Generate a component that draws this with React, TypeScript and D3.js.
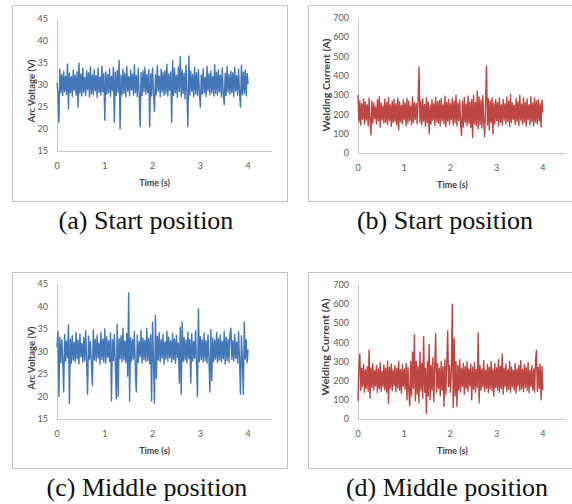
import React from "react";
import * as d3 from "d3";

// sample spacing of the recorded signals (s)
const SAMPLE_STEP = 0.02;

const xTicks = [0, 1, 2, 3, 4];
const voltageTicks = [15, 20, 25, 30, 35, 40, 45];
const currentTicks = [0, 100, 200, 300, 400, 500, 600, 700];

const captions = ["(a) Start position", "(b) Start position", "(c) Middle position", "(d) Middle position"];

// arc voltage, start position (V)
const voltageStart = [
  30.5, 27.8, 21.5, 33.6, 28.2, 32.4, 27.6, 33.1, 28.5, 32.0,
  27.9, 34.8, 24.6, 32.7, 28.3, 31.9, 27.4, 33.4, 28.8, 32.2,
  27.7, 33.0, 25.0, 35.0, 28.1, 32.5, 27.5, 33.8, 28.4, 31.7,
  27.6, 33.2, 28.9, 32.8, 27.3, 34.1, 28.0, 32.3, 27.8, 33.5,
  28.6, 32.1, 27.2, 33.9, 28.3, 31.8, 27.7, 34.3, 28.5, 32.6,
  22.0, 33.0, 27.9, 32.4, 28.2, 33.7, 27.4, 32.0, 28.7, 34.0,
  21.5, 32.9, 27.6, 33.3, 28.4, 35.6, 20.0, 32.2, 27.8, 33.6,
  28.1, 32.7, 27.3, 34.2, 28.6, 31.9, 27.5, 33.4, 28.9, 32.5,
  27.7, 34.6, 28.2, 32.1, 27.4, 33.8, 28.0, 20.5, 32.8, 27.6,
  33.2, 28.5, 34.0, 27.9, 32.4, 28.3, 33.5, 20.5, 32.6, 27.5,
  33.9, 28.1, 24.0, 32.3, 27.8, 34.4, 28.6, 32.0, 27.3, 33.6,
  28.4, 32.9, 27.7, 33.3, 28.0, 34.7, 27.5, 32.5, 28.8, 33.0,
  21.5, 35.5, 27.6, 33.8, 28.3, 32.2, 27.2, 34.1, 28.5, 36.5,
  27.4, 33.4, 28.1, 32.7, 26.8, 34.5, 28.2, 20.5, 36.6, 27.7,
  33.1, 28.6, 32.4, 27.3, 34.0, 28.0, 32.8, 27.6, 33.5, 28.4,
  25.0, 32.3, 27.9, 33.7, 28.2, 31.8, 27.4, 34.2, 28.7, 32.6,
  27.8, 33.2, 28.3, 32.0, 27.5, 34.6, 28.1, 32.9, 27.7, 33.4,
  28.5, 32.2, 27.3, 33.9, 28.0, 25.5, 32.7, 27.6, 34.3, 28.4,
  32.4, 27.9, 33.1, 28.2, 32.8, 27.4, 34.0, 28.6, 32.1, 27.7,
  33.6, 28.3, 25.0, 34.5, 27.8, 32.9, 28.1, 33.4, 27.5, 32.6,
  30.2,
];

// welding current, start position (A)
const currentStart = [
  300, 160, 270, 145, 255, 175, 280, 150, 265, 170,
  250, 140, 285, 165, 95, 270, 155, 260, 178, 240,
  150, 275, 168, 290, 135, 258, 172, 245, 155, 280,
  160, 262, 148, 287, 170, 250, 138, 268, 158, 278,
  165, 255, 145, 284, 120, 266, 162, 248, 150, 276,
  172, 259, 140, 283, 155, 270, 168, 244, 148, 290,
  160, 262, 175, 256, 152, 275, 445, 160, 268, 145,
  280, 166, 252, 138, 286, 157, 264, 100, 247, 150,
  277, 170, 258, 143, 288, 162, 266, 155, 272, 140,
  283, 168, 250, 152, 295, 136, 262, 165, 279, 148,
  256, 172, 284, 145, 268, 158, 300, 140, 260, 168,
  275, 150, 90, 270, 135, 288, 160, 254, 142, 296,
  155, 265, 132, 278, 80, 300, 150, 262, 140, 320,
  125, 290, 148, 275, 130, 298, 162, 85, 265, 450,
  145, 282, 120, 270, 158, 287, 100, 258, 150, 276,
  168, 262, 140, 285, 160, 250, 145, 278, 170, 255,
  152, 290, 165, 268, 138, 305, 158, 260, 175, 248,
  148, 282, 163, 266, 142, 300, 170, 254, 150, 286,
  160, 262, 138, 280, 172, 250, 146, 292, 165, 258,
  140, 285, 160, 270, 150, 278, 168, 255, 135, 276,
  210,
];

// arc voltage, middle position (V)
const voltageMiddle = [
  31.0, 34.5, 20.0, 33.2, 27.5, 32.6, 28.2, 21.0, 33.8, 27.9,
  32.3, 28.6, 35.9, 18.5, 32.8, 27.4, 33.5, 28.1, 32.0, 27.7,
  34.2, 28.4, 32.5, 27.3, 33.9, 28.8, 31.8, 27.6, 33.1, 28.0,
  34.6, 27.8, 20.5, 33.4, 28.3, 32.2, 27.5, 22.5, 34.8, 28.1,
  32.7, 27.9, 33.6, 28.5, 31.9, 27.2, 34.3, 28.2, 32.8, 27.6,
  35.0, 27.4, 33.3, 28.7, 32.4, 27.8, 34.1, 19.0, 32.6, 28.0,
  33.8, 27.3, 19.5, 36.0, 20.0, 32.9, 28.4, 33.5, 27.7, 35.2,
  28.1, 32.3, 27.5, 34.0, 24.5, 43.0, 19.0, 33.1, 27.9, 32.7,
  28.3, 34.4, 25.5, 21.0, 33.6, 27.6, 32.2, 28.8, 34.7, 27.4,
  33.0, 28.2, 32.5, 27.8, 35.1, 28.0, 32.9, 27.3, 33.7, 19.0,
  36.5, 27.5, 18.5, 38.0, 24.0, 33.4, 28.1, 34.2, 27.7, 32.6,
  28.5, 33.8, 27.2, 32.1, 28.3, 34.5, 27.9, 33.2, 28.6, 32.4,
  27.6, 34.0, 28.2, 32.8, 27.4, 33.6, 28.7, 31.9, 23.0, 35.4,
  20.5, 36.5, 27.8, 33.1, 28.1, 32.5, 27.5, 34.3, 28.4, 32.7,
  23.0, 33.9, 27.9, 32.2, 28.5, 34.6, 27.3, 20.0, 39.5, 27.7,
  33.3, 28.2, 32.6, 27.6, 34.1, 28.0, 32.4, 27.4, 33.7, 28.6,
  21.0, 34.9, 23.5, 33.0, 27.8, 32.5, 28.3, 34.2, 27.5, 32.9,
  28.1, 33.6, 27.7, 32.3, 28.4, 34.5, 27.2, 33.2, 28.0, 32.7,
  27.6, 34.0, 35.2, 28.2, 32.4, 27.9, 33.8, 28.5, 32.1, 27.4,
  34.4, 28.1, 20.5, 33.5, 27.7, 20.5, 36.5, 28.3, 32.6, 27.5,
  30.4,
];

// welding current, middle position (A)
const currentMiddle = [
  95, 280, 340, 150, 265, 170, 285, 140, 258, 160,
  272, 145, 360, 110, 268, 165, 290, 150, 255, 172,
  280, 138, 262, 158, 295, 145, 250, 168, 283, 152,
  266, 140, 300, 80, 270, 160, 288, 148, 256, 175,
  278, 142, 265, 162, 302, 150, 258, 135, 284, 170,
  262, 155, 290, 100, 270, 145, 70, 300, 120, 350,
  160, 440, 95, 300, 130, 275, 85, 350, 150, 290,
  110, 430, 140, 265, 30, 300, 120, 390, 100, 280,
  150, 320, 90, 270, 445, 140, 290, 160, 265, 120,
  300, 150, 275, 65, 310, 130, 290, 460, 170, 280,
  140, 260, 600, 60, 420, 120, 300, 65, 280, 150,
  310, 140, 265, 170, 290, 130, 275, 160, 300, 145,
  262, 172, 288, 100, 270, 155, 295, 140, 258, 165,
  450, 85, 280, 150, 262, 170, 305, 145, 255, 160,
  285, 138, 270, 158, 300, 148, 260, 120, 290, 165,
  268, 150, 310, 140, 275, 160, 340, 130, 265, 170,
  288, 145, 258, 155, 300, 140, 272, 168, 255, 150,
  290, 135, 262, 172, 280, 148, 305, 158, 260, 142,
  285, 165, 268, 150, 295, 138, 256, 170, 278, 152,
  262, 140, 300, 360, 145, 270, 160, 288, 100, 275,
  150,
];

const blue = "#4376b6";
const red = "#bd4643";
const tickFont = "Lato, 'Open Sans', sans-serif";

type Panel = {
  box: { x: number; y: number; w: number; h: number };
  plot: { left: number; right: number; top: number; bottom: number };
  yDomain: [number, number];
  yTicks: number[];
  yLabel: string;
  yLabelPos: { x: number; y: number; len?: number; size: number };
  values: number[];
  color: string;
  caption: string;
  captionY: number;
  captionX: number;
};

const panels: Panel[] = [
  {
    box: { x: 12, y: 5, w: 275, h: 196 },
    plot: { left: 57, right: 272, top: 19, bottom: 151 },
    yDomain: [15, 45], yTicks: voltageTicks,
    yLabel: "Arc Voltage (V)", yLabelPos: { x: 32, y: 91, size: 9.5 },
    values: voltageStart, color: blue,
    caption: captions[0], captionX: 146, captionY: 229,
  },
  {
    box: { x: 308, y: 5, w: 275, h: 196 },
    plot: { left: 358, right: 566, top: 18, bottom: 153 },
    yDomain: [0, 700], yTicks: currentTicks,
    yLabel: "Welding Current (A)", yLabelPos: { x: 327, y: 85, len: 93, size: 9.5 },
    values: currentStart, color: red,
    caption: captions[1], captionX: 445, captionY: 229,
  },
  {
    box: { x: 12, y: 272, w: 275, h: 196 },
    plot: { left: 57, right: 272, top: 284, bottom: 419 },
    yDomain: [15, 45], yTicks: voltageTicks,
    yLabel: "Arc Voltage (V)", yLabelPos: { x: 32, y: 358, size: 9.5 },
    values: voltageMiddle, color: blue,
    caption: captions[2], captionX: 147, captionY: 496,
  },
  {
    box: { x: 308, y: 272, w: 275, h: 196 },
    plot: { left: 358, right: 566, top: 285, bottom: 419 },
    yDomain: [0, 700], yTicks: currentTicks,
    yLabel: "Welding Current (A)", yLabelPos: { x: 326, y: 347, len: 97, size: 9.5 },
    values: currentMiddle, color: red,
    caption: captions[3], captionX: 447, captionY: 496,
  },
];

const SignalPanel = ({ p }: { p: Panel }) => {
  const x = d3.scaleLinear().domain([0, 4.5]).range([p.plot.left, p.plot.right]);
  const y = d3.scaleLinear().domain(p.yDomain).range([p.plot.bottom, p.plot.top]);
  const line = d3
    .line<number>()
    .x((_, i) => x(i * SAMPLE_STEP))
    .y((d) => y(d));

  return (
    <g>
      <rect x={p.box.x + 0.5} y={p.box.y + 0.5} width={p.box.w} height={p.box.h}
        fill="#fff" stroke="#c4c4c4" strokeWidth={1} />
      {/* axes */}
      <line x1={p.plot.left + 0.5} x2={p.plot.left + 0.5} y1={p.plot.top} y2={p.plot.bottom}
        stroke="#c8c8c8" />
      <line x1={p.plot.left} x2={p.plot.right} y1={p.plot.bottom + 0.5} y2={p.plot.bottom + 0.5}
        stroke="#c8c8c8" />
      <path d={line(p.values) || ""} fill="none" stroke={p.color} strokeWidth={1.4}
        strokeLinejoin="round" />
      {p.yTicks.map((t) => (
        <text key={t} x={p.plot.left - 9} y={y(t)} dy="0.35em" textAnchor="end"
          fontFamily={tickFont} fontSize={9} fill="#595959">{t}</text>
      ))}
      {xTicks.map((t) => (
        <text key={t} x={x(t)} y={p.plot.bottom + 15} dy="0.35em" textAnchor="middle"
          fontFamily={tickFont} fontSize={9} fill="#595959">{t}</text>
      ))}
      <text x={(x(0) + x(4)) / 2 + 2} y={p.plot.bottom + 32} dy="0.35em" textAnchor="middle"
        fontFamily={tickFont} fontSize={9} fontWeight="bold" fill="#404040">Time (s)</text>
      <text transform={`translate(${p.yLabelPos.x},${p.yLabelPos.y}) rotate(-90)`}
        dy="0.35em" textAnchor="middle" fontFamily={tickFont} fontSize={p.yLabelPos.size}
        fontWeight="bold" fill="#404040" textLength={p.yLabelPos.len}
        lengthAdjust={p.yLabelPos.len ? "spacingAndGlyphs" : undefined}>{p.yLabel}</text>
      <text x={p.captionX} y={p.captionY} textAnchor="middle"
        fontFamily="'Liberation Serif', 'Times New Roman', serif" fontSize={26} fill="#111">{p.caption}</text>
    </g>
  );
};

const App = () => (
  <svg width={572} height={504} style={{ position: "absolute", left: 0, top: 0, background: "#fff" }}>
    {panels.map((p, i) => (
      <SignalPanel key={i} p={p} />
    ))}
  </svg>
);

export default App;
